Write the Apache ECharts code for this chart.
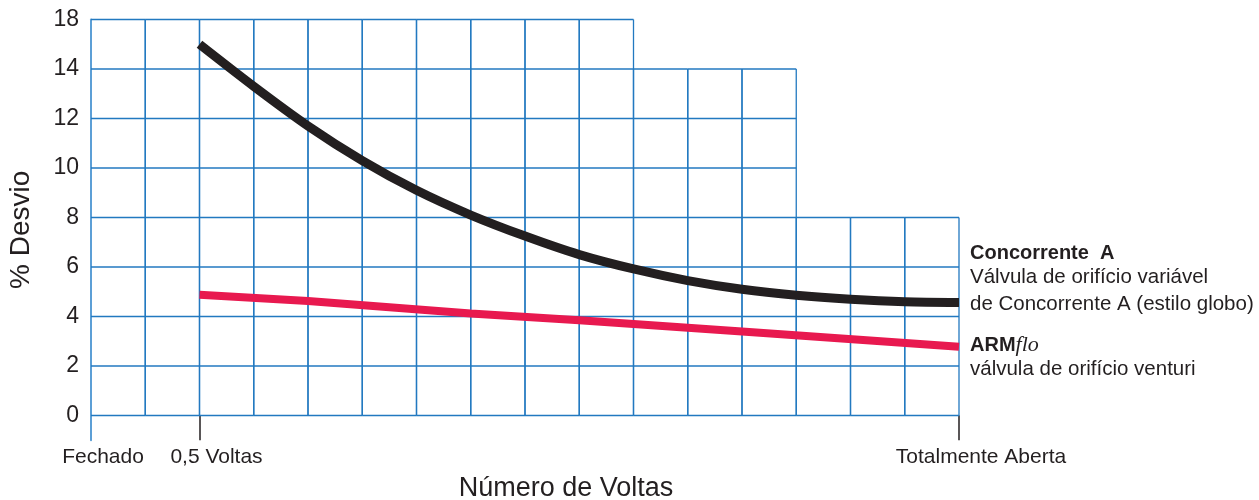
<!DOCTYPE html>
<html>
<head>
<meta charset="utf-8">
<script src="https://cdn.jsdelivr.net/npm/echarts@6/dist/echarts.min.js"></script>
<style>
  html, body { margin: 0; padding: 0; background: #fff; }
  #chart { width: 1259px; height: 500px; }
</style>
</head>
<body>
<div id="chart"></div>
<script>
// grid profile: top of the printed grid for each column (in axis units)
const colTops = [16, 16, 16, 16, 16, 16, 16, 16, 16, 16, 14, 14, 14, 8, 8, 8]

const xTickValues = [0, 2, 16]
const xTickLabels = ['Fechado', '0,5 Voltas', 'Totalmente Aberta']
const yTickValues = [0, 2, 4, 6, 8, 10, 12, 14, 16]
const yTickLabels = ['0', '2', '4', '6', '8', '10', '12', '14', '18']

// Concorrente A (globo)
const concTurns = [2, 3, 4, 5, 6, 7, 8, 9, 10, 11, 12, 13, 14, 15, 16]
const concValues = [15.0, 13.3, 11.7, 10.3, 9.1, 8.1, 7.25, 6.5, 5.92, 5.45, 5.1, 4.86, 4.7, 4.6, 4.57]

// ARMflo (venturi)
const armTurns = [2, 4, 7, 9, 12, 16]
const armValues = [4.88, 4.63, 4.12, 3.85, 3.39, 2.78]

const textColor = '#231f20'
const gridColor = '#2279c0'
const fontFamily = 'Liberation Sans, Arial, sans-serif'

const chart = echarts.init(document.getElementById('chart'))

const renderCell = (params, api) => {
  const i = api.value(0)
  const top = api.value(1)
  const style = { stroke: gridColor, lineWidth: 1.3 }
  const children = []
  const seg = (x1, y1, x2, y2) => {
    const a = api.coord([x1, y1])
    const b = api.coord([x2, y2])
    children.push({ type: 'line', shape: { x1: a[0], y1: a[1], x2: b[0], y2: b[1] }, style: style })
  }
  if (i > 0) seg(i, 0, i, top)
  seg(i + 1, 0, i + 1, top)
  for (let v = 0; v <= top; v += 2) seg(i, v, i + 1, v)
  return { type: 'group', children: children }
}

chart.setOption({
  animation: false,
  grid: { left: 91, right: 300, top: 19.5, bottom: 59.75, outerBoundsMode: 'none', containLabel: false },
  xAxis: {
    type: 'value',
    min: 0,
    max: 16,
    splitLine: { show: false },
    axisLine: { show: false, onZero: false },
    axisTick: {
      show: true,
      inside: true,
      length: 25,
      customValues: [2, 16],
      lineStyle: { color: textColor, width: 1.5 }
    },
    axisLabel: {
      customValues: xTickValues,
      margin: 6,
      formatter: (v) => {
        const i = xTickValues.indexOf(v)
        return '{p' + i + '|' + xTickLabels[i] + '}'
      },
      rich: {
        p0: { padding: [0, 0, 0, 24], fontSize: 21, color: textColor, fontFamily: fontFamily },
        p1: { padding: [0, 0, 0, 34], fontSize: 21, color: textColor, fontFamily: fontFamily },
        p2: { padding: [0, 0, 0, 44], fontSize: 21, color: textColor, fontFamily: fontFamily }
      }
    },
    name: 'Número de Voltas',
    nameLocation: 'middle',
    nameGap: 35,
    nameTextStyle: { fontSize: 27, color: textColor, fontFamily: fontFamily, padding: [0, 0, 0, 82] }
  },
  yAxis: {
    type: 'value',
    min: -1,
    max: 16,
    splitLine: { show: false },
    axisLine: { show: true, onZero: false, lineStyle: { color: '#5c9fd6', width: 2 } },
    axisTick: { show: false },
    axisLabel: {
      customValues: yTickValues,
      margin: 12,
      fontSize: 23,
      color: textColor,
      fontFamily: fontFamily,
      formatter: (v) => yTickLabels[yTickValues.indexOf(v)]
    },
    name: '% Desvio',
    nameLocation: 'middle',
    nameGap: 56,
    nameTextStyle: { fontSize: 28, color: textColor, fontFamily: fontFamily }
  },
  series: [
    {
      type: 'custom',
      silent: true,
      z: 1,
      clip: false,
      renderItem: renderCell,
      data: colTops.map((t, i) => [i, t])
    },
    {
      name: 'Concorrente A',
      type: 'line',
      z: 3,
      symbol: 'none',
      smooth: 0.3,
      lineStyle: { color: textColor, width: 9, cap: 'butt' },
      data: concTurns.map((t, i) => [t, concValues[i]])
    },
    {
      name: 'ARMflo',
      type: 'line',
      z: 3,
      symbol: 'none',
      smooth: false,
      lineStyle: { color: '#e8194f', width: 8, cap: 'butt' },
      data: armTurns.map((t, i) => [t, armValues[i]])
    }
  ],
  graphic: [
    {
      type: 'text',
      left: 970,
      top: 243,
      style: {
        text: '{b|Concorrente  A}\n{r|Válvula de orifício variável}\n{r|de Concorrente A (estilo globo)}',
        rich: {
          b: { fontSize: 20, fontWeight: 'bold', fill: textColor, fontFamily: fontFamily, lineHeight: 22 },
          r: { fontSize: 20.5, fill: textColor, fontFamily: fontFamily, lineHeight: 27 }
        }
      }
    },
    {
      type: 'text',
      left: 970,
      top: 334,
      style: {
        text: '{b|ARM}{i|flo}\n{r|válvula de orifício venturi}',
        rich: {
          b: { fontSize: 20, fontWeight: 'bold', fill: textColor, fontFamily: fontFamily, lineHeight: 24 },
          i: { fontSize: 22, fontStyle: 'italic', fill: textColor, fontFamily: 'Liberation Serif, Times New Roman, serif', lineHeight: 24 },
          r: { fontSize: 20.5, fill: textColor, fontFamily: fontFamily, lineHeight: 24 }
        }
      }
    }
  ]
})
</script>
</body>
</html>
